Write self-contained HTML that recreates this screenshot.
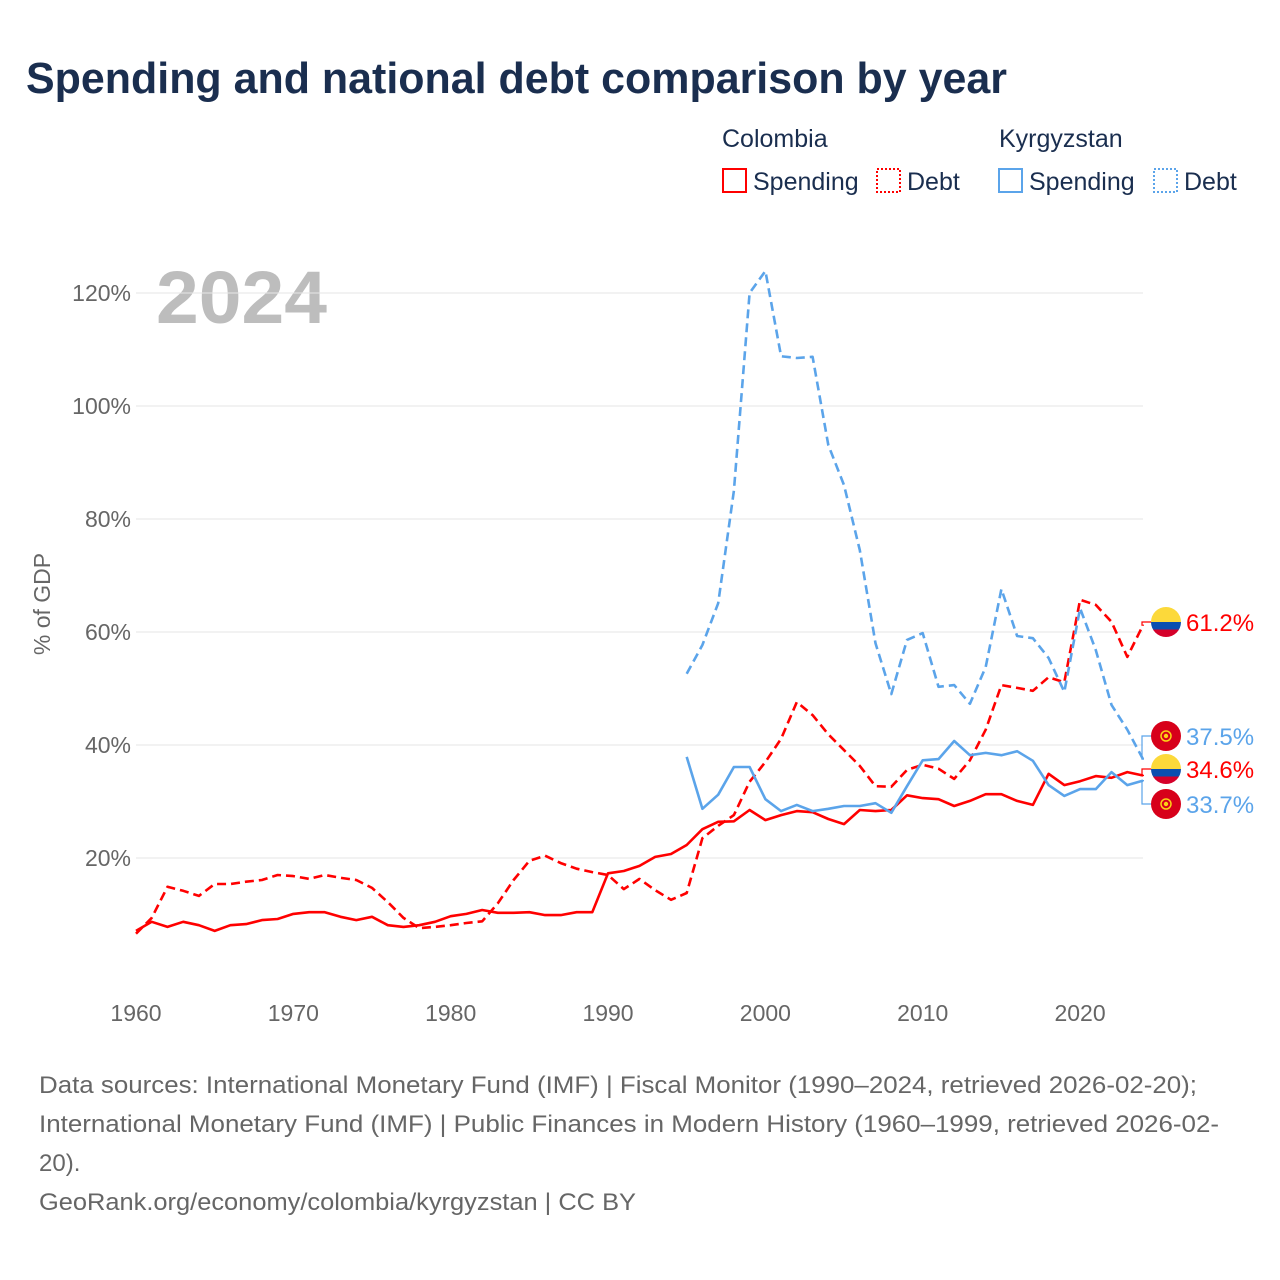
<!DOCTYPE html>
<html><head><meta charset="utf-8"><style>
body{margin:0;background:#fff;font-family:"Liberation Sans",sans-serif;}
#wrap{position:relative;width:1280px;height:1280px;overflow:hidden;}
</style></head><body>
<div id="wrap">
<svg id="chart" width="1280" height="1280" xmlns="http://www.w3.org/2000/svg">
<text x="26" y="93" font-size="44" font-weight="bold" fill="#1a2e4f" textLength="981" lengthAdjust="spacingAndGlyphs">Spending and national debt comparison by year</text>
<g font-size="25" fill="#1a2e4f">
<text x="722" y="147">Colombia</text>
<text x="999" y="147">Kyrgyzstan</text>
<g><rect x="723" y="169" width="23" height="23" fill="none" stroke="#f00" stroke-width="2"/><text x="753" y="190">Spending</text></g>
<g><rect x="877" y="169" width="23" height="23" fill="none" stroke="#f00" stroke-width="2" stroke-dasharray="2,2"/><text x="907" y="190">Debt</text></g>
<g><rect x="999" y="169" width="23" height="23" fill="none" stroke="#5ba4ea" stroke-width="2"/><text x="1029" y="190">Spending</text></g>
<g><rect x="1154" y="169" width="23" height="23" fill="none" stroke="#5ba4ea" stroke-width="2" stroke-dasharray="2,2"/><text x="1184" y="190">Debt</text></g>
</g>
<text x="156" y="323" font-size="74" font-weight="bold" fill="#bdbdbd" textLength="171" lengthAdjust="spacingAndGlyphs">2024</text>
<g id="grid"></g><g id="xt"></g><g id="lines"></g><g id="ends"></g>
<text transform="translate(50,604) rotate(-90)" text-anchor="middle" font-size="23" fill="#666">% of GDP</text>
<g font-size="24" fill="#666">
<text x="39" y="1093" textLength="1158" lengthAdjust="spacingAndGlyphs">Data sources: International Monetary Fund (IMF) | Fiscal Monitor (1990–2024, retrieved 2026-02-20);</text>
<text x="39" y="1132" textLength="1180" lengthAdjust="spacingAndGlyphs">International Monetary Fund (IMF) | Public Finances in Modern History (1960–1999, retrieved 2026-02-</text>
<text x="39" y="1171">20).</text>
<text x="39" y="1210" textLength="597" lengthAdjust="spacingAndGlyphs">GeoRank.org/economy/colombia/kyrgyzstan | CC BY</text>
</g>
</svg>
</div>
<script>
const years=[];for(let y=1960;y<=2024;y++)years.push(y);
const colSpending=[7.1,8.7,7.8,8.7,8.1,7.1,8.1,8.3,9.0,9.2,10.1,10.4,10.4,9.6,9.0,9.6,8.1,7.8,8.1,8.7,9.7,10.1,10.8,10.3,10.3,10.4,9.9,9.9,10.4,10.4,17.3,17.7,18.6,20.2,20.7,22.3,25.1,26.4,26.5,28.5,26.7,27.6,28.3,28.1,26.9,26.0,28.5,28.3,28.5,31.1,30.6,30.4,29.2,30.1,31.3,31.3,30.1,29.4,34.9,32.9,33.6,34.5,34.2,35.2,34.6];
const colDebt=[6.6,9.4,14.9,14.2,13.3,15.4,15.4,15.8,16.1,17.0,16.8,16.3,17.0,16.5,16.1,14.7,12.2,9.4,7.6,7.8,8.1,8.5,8.8,12.0,16.1,19.5,20.4,19.1,18.1,17.5,17.0,14.5,16.3,14.3,12.6,13.8,23.5,25.7,27.6,33.5,37.0,41.1,47.6,45.3,41.9,39.1,36.3,32.7,32.6,35.6,36.5,35.8,34.0,37.3,42.7,50.6,50.1,49.6,52.0,51.1,65.7,64.8,61.8,55.6,61.2];
const kgzYears=[];for(let y=1995;y<=2024;y++)kgzYears.push(y);
const kgzSpending=[37.9,28.7,31.2,36.1,36.1,30.4,28.3,29.4,28.3,28.7,29.2,29.2,29.7,28.0,32.7,37.3,37.5,40.7,38.2,38.6,38.2,38.9,37.2,32.9,31.0,32.2,32.2,35.2,32.9,33.7];
const kgzDebt=[52.6,57.7,65.1,85.0,120.0,123.9,108.8,108.5,108.7,93.1,86.0,74.5,58.0,49.0,58.6,59.8,50.3,50.6,47.3,53.8,67.6,59.3,58.9,55.4,49.4,64.2,56.8,47.1,42.7,37.5];
const yTicks=[20,40,60,80,100,120];
const xTicks=[1960,1970,1980,1990,2000,2010,2020];
const NS='http://www.w3.org/2000/svg';
const X=y=>136+(y-1960)*(1143-136)/64;
const Y=v=>971-v*5.65;
function mk(tag,attrs,parent){const e=document.createElementNS(NS,tag);for(const k in attrs)e.setAttribute(k,attrs[k]);parent.appendChild(e);return e;}
const grid=document.getElementById('grid');
yTicks.forEach(t=>{
 const l=mk('line',{x1:136,x2:1143,y1:Y(t),y2:Y(t),stroke:'#e6e6e6','stroke-width':1},grid);
 
 
 const tx=mk('text',{x:131,y:Y(t)+8,'text-anchor':'end','font-size':23,fill:'#666'},grid);
 tx.textContent=t+'%';
 
 
});
const xt=document.getElementById('xt');
xTicks.forEach(t=>{
 const tx=mk('text',{x:X(t),y:1021,'text-anchor':'middle','font-size':23,fill:'#666'},xt);
 tx.textContent=t;
 
 
});
const lines=document.getElementById('lines');
function series(xs,vs,color,dash,name){
 const d=vs.map((v,i)=>(i?'L':'M')+X(xs[i]).toFixed(1)+','+Y(v).toFixed(1)).join('');
 const p=mk('path',{d:d,fill:'none',stroke:color,'stroke-width':2.6,'stroke-linejoin':'round'},lines);
 if(dash)p.setAttribute('stroke-dasharray','9,5');
 
 
}
series(years,colDebt,'#f00',true,'line-colombia-debt');
series(years,colSpending,'#f00',false,'line-colombia-spending');
series(kgzYears,kgzDebt,'#5ba4ea',true,'line-kyrgyzstan-debt');
series(kgzYears,kgzSpending,'#5ba4ea',false,'line-kyrgyzstan-spending');
const ends=document.getElementById('ends');
function flag(cx,cy,kind,name){
 const g=mk('g',{},ends);
 
 
 if(kind==='col'){
  mk('clipPath',{id:'c'+cy},g);
  const cp=g.lastChild;mk('circle',{cx:cx,cy:cy,r:15},cp);
  const gg=mk('g',{'clip-path':'url(#c'+cy+')'},g);
  mk('rect',{x:cx-15,y:cy-15,width:30,height:15,fill:'#fcd93a'},gg);
  mk('rect',{x:cx-15,y:cy,width:30,height:7.5,fill:'#0a4fb0'},gg);
  mk('rect',{x:cx-15,y:cy+7.5,width:30,height:7.5,fill:'#d5002a'},gg);
 }else{
  mk('circle',{cx:cx,cy:cy,r:15,fill:'#d7001a'},g);
  mk('circle',{cx:cx,cy:cy,r:5,fill:'none',stroke:'#fcd116','stroke-width':1.5},g);
  mk('circle',{cx:cx,cy:cy,r:2.2,fill:'#fcd116'},g);
 }
}
const endVals=[[colDebt[64],622,'#f00','col','colombia-debt'],[kgzDebt[29],736,'#5ba4ea','kgz','kyrgyzstan-debt'],[colSpending[64],769,'#f00','col','colombia-spending'],[kgzSpending[29],804,'#5ba4ea','kgz','kyrgyzstan-spending']];
endVals.forEach(e=>{
 const ly=e[1];
 const c=mk('path',{d:'M1144,'+Y(e[0]).toFixed(1)+'H1142V'+ly+'H1152',fill:'none',stroke:e[2],'stroke-width':1.2},ends);
 
 
 flag(1166,ly,e[3],'flag-'+e[4]);
 const t=mk('text',{x:1186,y:ly+9,'font-size':24,fill:e[2]},ends);
 t.textContent=e[0].toFixed(1)+'%';
 
 
});
</script>
</body></html>
